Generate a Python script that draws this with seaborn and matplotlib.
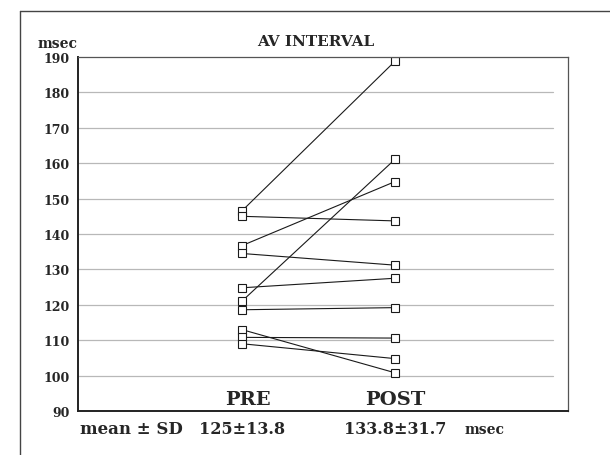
"""
AV interval before and after, one line per patient.
"""

import pandas as pd
import matplotlib.pyplot as plt
import seaborn as sns

# values (msec)
phases = ["PRE", "POST"]
pre_vals = [146.5, 145.0, 136.7, 134.5, 124.8, 121.0, 118.6, 113.0, 110.8, 109.0]
post_vals = [188.8, 143.7, 154.8, 131.2, 127.5, 161.1, 119.2, 100.8, 110.6, 104.8]
y_ticks = [90, 100, 110, 120, 130, 140, 150, 160, 170, 180, 190]
summary = ["125\u00b113.8", "133.8\u00b131.7"]


def main():
    # --- long table: one row per patient per phase ---
    rows = []
    for i, (a, b) in enumerate(zip(pre_vals, post_vals)):
        rows.append({"patient": i, "phase": 0, "msec": a})
        rows.append({"patient": i, "phase": 1, "msec": b})
    df = pd.DataFrame(rows)

    sns.set_style("white")
    plt.rcParams["font.family"] = ["DejaVu Serif"]

    fig = plt.figure(figsize=(6.1, 4.56), dpi=100)
    ax = fig.add_axes([78 / 610, 44 / 456, 490 / 610, 354 / 456])

    # grid lines first so the lines sit on top
    for t in y_ticks[1:-1]:
        ax.axhline(t, color="#b8b8b8", lw=0.9, xmax=0.97, zorder=0)

    sns.lineplot(data=df, x="phase", y="msec", units="patient", estimator=None,
                 color="#1a1a1a", lw=0.8, marker="s", markersize=5.5,
                 markerfacecolor="white", markeredgecolor="#1a1a1a",
                 markeredgewidth=0.8, ax=ax, legend=False)

    ax.set_xlim(-1.07, 2.13)
    ax.set_ylim(90, 190)
    ax.set_yticks(y_ticks)
    ax.set_yticklabels([str(t) for t in y_ticks], fontsize=9, fontweight="bold")
    ax.set_xticks([])
    ax.set_xlabel("")
    ax.set_ylabel("")
    ax.tick_params(axis="y", length=0, pad=6)

    for side in ["left", "bottom"]:
        ax.spines[side].set_color("#222222")
        ax.spines[side].set_linewidth(1.4)
    for side in ["top", "right"]:
        ax.spines[side].set_color("#555555")
        ax.spines[side].set_linewidth(0.9)

    # category names inside the plot
    for i, name in enumerate(phases):
        ax.text(i + 0.04 * (i == 0), 93.5, name, ha="center", va="center",
                fontsize=14, fontweight="bold")

    # labels round the axes
    fig.text(78 / 610, 1 - 44 / 456, "msec", ha="right", va="center",
             fontsize=10, fontweight="bold")
    fig.text(316 / 610, 1 - 42 / 456, "AV INTERVAL", ha="center", va="center",
             fontsize=11, fontweight="bold")

    # mean +- SD row
    fig.text(80 / 610, 1 - 430 / 456, "mean \u00b1 SD", ha="left", va="center",
             fontsize=12, fontweight="bold")
    for i, s in enumerate(summary):
        xd = ax.transData.transform((i, 90))[0] / fig.bbox.width
        fig.text(xd, 1 - 430 / 456, s, ha="center", va="center",
                 fontsize=11.5, fontweight="bold")
    fig.text(465 / 610, 1 - 430 / 456, "msec", ha="left", va="center",
             fontsize=10, fontweight="bold")

    # outer frame of the figure panel (open on the right and bottom)
    fig.add_artist(plt.Line2D([20 / 610, 1], [1 - 12 / 456, 1 - 12 / 456],
                              color="#444444", lw=1.0))
    fig.add_artist(plt.Line2D([20 / 610, 20 / 610], [0, 1 - 12 / 456],
                              color="#444444", lw=1.0))

    fig.savefig("out.png", dpi=100)


if __name__ == "__main__":
    main()
